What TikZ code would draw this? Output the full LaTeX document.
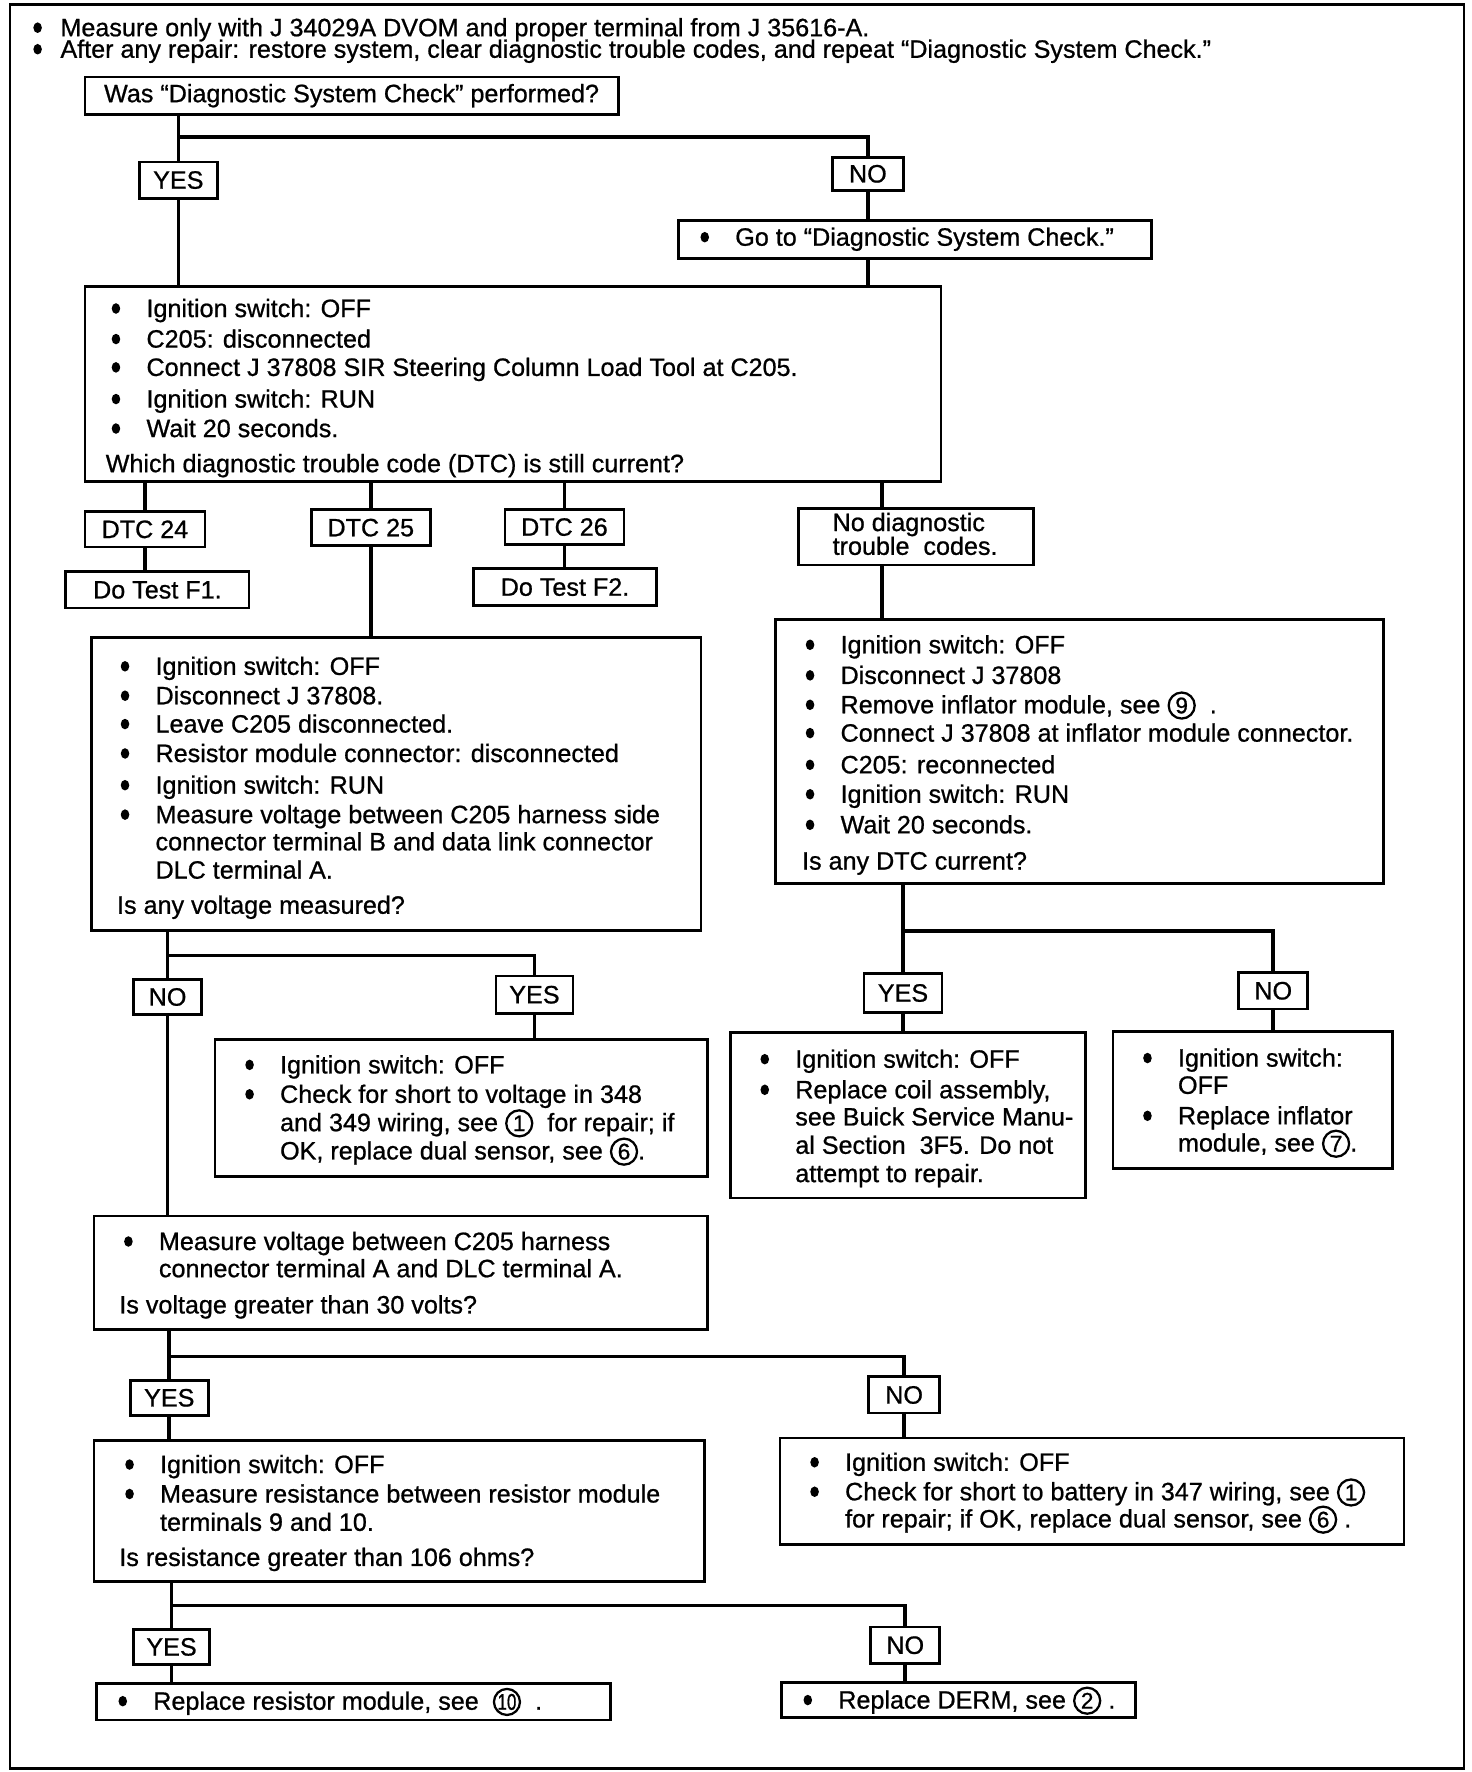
\documentclass[tikz,border=0pt]{standalone}
\usepackage{fontspec}
\setmainfont{Liberation Sans}[FakeBold=0.8]
\usepackage{graphicx}
\newcommand\fs{\fontsize{11.1}{13}\selectfont}
\tikzset{
  box/.style={draw, line width=1.2pt, rectangle, inner sep=0pt, font=\fs},
  txt/.style={inner sep=0pt, font=\fs},
  conn/.style={line width=1.6pt},
}
\newcommand\bul{\tikz[baseline=0pt]\fill (0pt,0.34em) ellipse [x radius=0.17em, y radius=0.21em];}
\newcommand\cn[1]{\tikz[baseline=(cc.base)]\node[circle,draw,line width=1pt,inner sep=0pt,minimum size=11.5pt,font=\fontsize{10}{10}\selectfont](cc){#1};}
\newcommand\bx[6]{\node[box, minimum width={(#4-#2)*0.5pt}, minimum height={(#5-#3)*0.5pt}] (#1) at ({(#2+#4)/2},{(#3+#5)/2}) {#6};}
\newcommand\tline[4]{\node[txt,anchor=base west] (#1) at (#2,#3) {#4};}
\newcommand\bline[5][11.6pt]{\node[txt,anchor=base west] (#2) at (#3,#4) {\llap{\bul\hspace{#1}}#5};}
\newcommand\twolines[3]{\vtop{\baselineskip=#1\lineskiplimit=-30pt\lineskip=0pt\hbox{#2}\hbox{#3}}}
\begin{document}
\begin{tikzpicture}[x=0.5pt,y=-0.5pt]
\useasboundingbox (0,0) rectangle (1300,1565);
\draw[line width=1pt] (9,4) rectangle (1293,1562);
% header
\node[txt,anchor=base west] (hdr) at (53,32) {\twolines{9.5pt}{\llap{\bul\hspace{8.2pt}}Measure only with J 34029A DVOM and proper terminal from J 35616-A.}{\llap{\bul\hspace{8.2pt}}After any repair: restore system, clear diagnostic trouble codes, and repeat “Diagnostic System Check.”}};
% top question
\bx{q1}{75}{68}{546}{101}{Was “Diagnostic System Check” performed?}
\bx{yes1}{123}{143}{192}{175}{YES}
\bx{no1}{735}{139}{798}{168}{NO}
\bx{goto}{599}{195}{1017}{228}{}
\bline{gototx}{649}{217}{Go to “Diagnostic System Check.”}
% box 2
\bx{b2}{75}{253}{831}{425}{}
\bline{b2a}{129}{280}{Ignition switch: OFF}
\bline{b2b}{129}{307}{C205: disconnected}
\bline{b2c}{129}{332}{Connect J 37808 SIR Steering Column Load Tool at C205.}
\bline{b2d}{129}{360}{Ignition switch: RUN}
\bline{b2e}{129}{386}{Wait 20 seconds.}
\tline{b2q}{93}{417}{Which diagnostic trouble code (DTC) is still current?}
% DTC row
\bx{d24}{75}{452}{181}{483}{DTC 24}
\bx{f1}{58}{505}{220}{537}{Do Test F1.}
\bx{d25}{275}{450}{380}{482}{DTC 25}
\bx{d26}{446}{450}{551}{481}{DTC 26}
\bx{f2}{418}{502}{580}{535}{Do Test F2.}
\bx{nd}{705}{449}{913}{499}{}
\node[txt,anchor=base west] (ndt) at (735,469) {\twolines{10.5pt}{No diagnostic}{trouble\ \ codes.}};
% box 3
\bx{b3}{81}{563}{619}{822}{}
\bline{b3a}{137}{596}{Ignition switch: OFF}
\bline{b3b}{137}{622}{Disconnect J 37808.}
\bline{b3c}{137}{647}{Leave C205 disconnected.}
\bline{b3d}{137}{673}{Resistor module connector: disconnected}
\bline{b3e}{137}{701}{Ignition switch: RUN}
\bline{b3f}{137}{727}{Measure voltage between C205 harness side}
\tline{b3g}{137}{751}{connector terminal B and data link connector}
\tline{b3h}{137}{776}{DLC terminal A.}
\tline{b3q}{103}{807}{Is any voltage measured?}
\bx{no2}{118}{865}{178}{896}{NO}
\bx{yes2}{438}{862}{506}{895}{YES}
% box 5
\bx{b5}{190}{918}{625}{1039}{}
\bline{b5a}{247}{948}{Ignition switch: OFF}
\bline{b5b}{247}{974}{Check for short to voltage in 348}
\tline{b5c}{247}{999}{and 349 wiring, see \cn{1}\ \ for repair; if}
\tline{b5d}{247}{1024}{OK, replace dual sensor, see \cn{6}.}
% box 6
\bx{b6}{83}{1074}{625}{1174}{}
\bline{b6a}{140}{1104}{Measure voltage between C205 harness}
\tline{b6b}{140}{1128}{connector terminal A and DLC terminal A.}
\tline{b6q}{105}{1160}{Is voltage greater than 30 volts?}
\bx{yes3}{115}{1219}{184}{1250}{YES}
\bx{no3}{767}{1216}{830}{1248}{NO}
% box 7
\bx{b7}{83}{1272}{622}{1397}{}
\bline{b7a}{141}{1301}{Ignition switch: OFF}
\bline{b7b}{141}{1327}{Measure resistance between resistor module}
\tline{b7c}{141}{1352}{terminals 9 and 10.}
\tline{b7q}{105}{1383}{Is resistance greater than 106 ohms?}
% box 8
\bx{b8}{689}{1270}{1240}{1364}{}
\bline{b8a}{746}{1299}{Ignition switch: OFF}
\bline{b8b}{746}{1325}{Check for short to battery in 347 wiring, see \cn{1}}
\tline{b8c}{746}{1349}{for repair; if OK, replace dual sensor, see \cn{6} .}
\bx{yes4}{118}{1439}{185}{1470}{YES}
\bx{no4}{769}{1437}{830}{1469}{NO}
\bx{b9}{85}{1487}{539}{1519}{}
\bline{b9a}{135}{1510}{Replace resistor module, see\ \ \cn{\scalebox{0.75}[1]{10}}\ \ .}
\bx{b10}{690}{1486}{1003}{1517}{}
\bline{b10a}{740}{1509}{Replace DERM, see \cn{2} .}
% box 4
\bx{b4}{685}{547}{1222}{780}{}
\bline{b4a}{742}{577}{Ignition switch: OFF}
\bline{b4b}{742}{604}{Disconnect J 37808}
\bline{b4c}{742}{630}{Remove inflator module, see \cn{9}\ \ .}
\bline{b4d}{742}{655}{Connect J 37808 at inflator module connector.}
\bline{b4e}{742}{683}{C205: reconnected}
\bline{b4f}{742}{709}{Ignition switch: RUN}
\bline{b4g}{742}{736}{Wait 20 seconds.}
\tline{b4q}{708}{768}{Is any DTC current?}
\bx{yes5}{763}{860}{832}{894}{YES}
\bx{no5}{1094}{859}{1155}{891}{NO}
% box 11
\bx{b11}{645}{912}{959}{1058}{}
\bline{b11a}{702}{943}{Ignition switch: OFF}
\bline{b11b}{702}{970}{Replace coil assembly,}
\tline{b11c}{702}{994}{see Buick Service Manu-}
\tline{b11d}{702}{1019}{al Section\ \ 3F5. Do not}
\tline{b11e}{702}{1044}{attempt to repair.}
% box 12
\bx{b12}{983}{911}{1230}{1032}{}
\bline{b12a}{1040}{942}{Ignition switch:}
\tline{b12b}{1040}{966}{OFF}
\bline{b12c}{1040}{993}{Replace inflator}
\tline{b12d}{1040}{1017}{module, see \cn{7}.}
% junction coordinates
\coordinate (j1) at (0,121);
\coordinate (j2) at (0,844);
\coordinate (j3) at (0,1198);
\coordinate (j4) at (0,1418);
\coordinate (j5) at (0,822);
\coordinate (cx) at (779,0);
% connectors
\draw[conn] (yes1 |- q1.south) -- (yes1.north);
\draw[conn] (yes1 |- j1) -| (no1.north);
\draw[conn] (no1.south) -- (no1 |- goto.north);
\draw[conn] (no1 |- goto.south) -- (no1 |- b2.north);
\draw[conn] (yes1.south) -- (yes1 |- b2.north);
\draw[conn] (d24 |- b2.south) -- (d24.north);
\draw[conn] (d24.south) -- (d24 |- f1.north);
\draw[conn] (d25 |- b2.south) -- (d25.north);
\draw[conn] (d25.south) -- (d25 |- b3.north);
\draw[conn] (d26 |- b2.south) -- (d26.north);
\draw[conn] (d26.south) -- (d26 |- f2.north);
\draw[conn] (cx |- b2.south) -- (cx |- nd.north);
\draw[conn] (cx |- nd.south) -- (cx |- b4.north);
\draw[conn] (no2 |- b3.south) -- (no2.north);
\draw[conn] (no2 |- j2) -| (yes2.north);
\draw[conn] (yes2.south) -- (yes2 |- b5.north);
\draw[conn] (no2.south) -- (no2 |- b6.north);
\draw[conn] (yes3 |- b6.south) -- (yes3.north);
\draw[conn] (yes3 |- j3) -| (no3.north);
\draw[conn] (yes3.south) -- (yes3 |- b7.north);
\draw[conn] (no3.south) -- (no3 |- b8.north);
\draw[conn] (yes4 |- b7.south) -- (yes4.north);
\draw[conn] (yes4 |- j4) -| (no4.north);
\draw[conn] (yes4.south) -- (yes4 |- b9.north);
\draw[conn] (no4.south) -- (no4 |- b10.north);
\draw[conn] (yes5 |- b4.south) -- (yes5.north);
\draw[conn] (yes5 |- j5) -| (no5.north);
\draw[conn] (yes5.south) -- (yes5 |- b11.north);
\draw[conn] (no5.south) -- (no5 |- b12.north);
\end{tikzpicture}
\end{document}
